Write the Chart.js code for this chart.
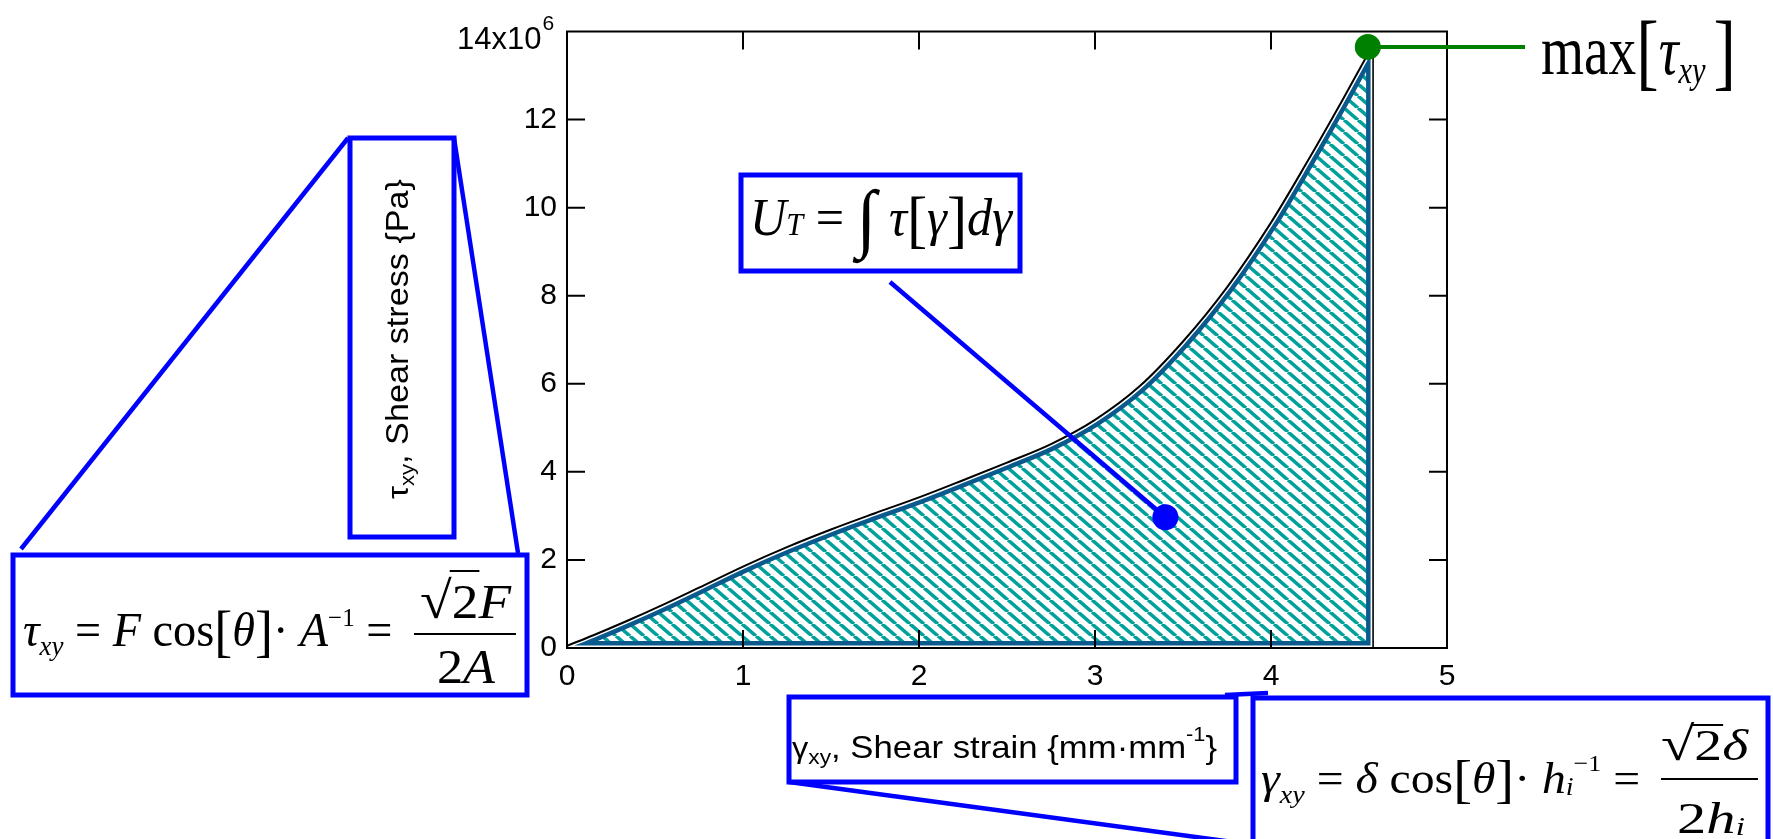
<!DOCTYPE html>
<html>
<head>
<meta charset="utf-8">
<script src="https://cdn.jsdelivr.net/npm/chart.js@4.4.1/dist/chart.umd.min.js"></script>
<style>
  html, body { margin: 0; padding: 0; background: #fff; }
  #wrap { width: 1773px; height: 839px; }
</style>
</head>
<body>
<div id="wrap"><canvas id="chart" width="1773" height="839"></canvas></div>
<script>
// shear strain (mm/mm) and shear stress (MPa)
const strain = [0, 0.15, 0.35, 0.55, 0.75, 1.0, 1.25, 1.5, 1.75, 2.0, 2.25, 2.5, 2.75, 3.0, 3.25, 3.5, 3.75, 4.0, 4.2, 4.4, 4.58];
const stressMPa = [0.05, 0.29, 0.63, 0.99, 1.37, 1.85, 2.29, 2.69, 3.06, 3.42, 3.81, 4.21, 4.63, 5.18, 5.93, 6.96, 8.19, 9.66, 11.0, 12.4, 13.7];

// annotation markers: [strain, stress MPa]
const energyMarker = [3.4, 2.97];
const peakMarker = [4.55, 13.65];

const xTicks = [0, 1, 2, 3, 4, 5];
const yTicks = [0, 2, 4, 6, 8, 10, 12, 14];

const BLUE = '#0000ff';
const EDGE = '#0b5a8e';
const TEAL = '#00a09c';

const serif = (s, it) => (it ? 'italic ' : '') + s + 'px "Liberation Serif", "Times New Roman", serif';
const sans = s => s + 'px "Liberation Sans", Arial, sans-serif';

// hatch tile, stripes running down to the right
const tile = document.createElement('canvas');
tile.width = 14; tile.height = 12;
const tc = tile.getContext('2d');
tc.strokeStyle = TEAL;
tc.lineWidth = 3.6;
for (let k = -1; k <= 1; k++) {
    tc.beginPath();
    tc.moveTo(k * 14, 0);
    tc.lineTo(k * 14 + 14, 12);
    tc.stroke();
}
const ctxMain = document.getElementById('chart').getContext('2d');
const hatch = ctxMain.createPattern(tile, 'repeat');

// draws runs of text, squeezed or stretched to a given width
function rich(ctx, runs, x, y, width) {
    let total = 0;
    for (const r of runs) { ctx.font = r.font; r.w = ctx.measureText(r.t).width; total += r.w; }
    const k = width ? width / total : 1;
    const pos = [];
    ctx.save();
    ctx.fillStyle = '#000';
    ctx.textAlign = 'left';
    ctx.textBaseline = 'alphabetic';
    ctx.translate(x, y);
    ctx.scale(k, 1);
    let cx = 0;
    for (const r of runs) {
        ctx.font = r.font;
        ctx.fillText(r.t, cx, r.dy || 0);
        pos.push([x + cx * k, x + (cx + r.w) * k]);
        cx += r.w;
    }
    ctx.restore();
    return pos;
}

function line(ctx, x1, y1, x2, y2, color, w) {
    ctx.save();
    ctx.strokeStyle = color; ctx.lineWidth = w; ctx.lineCap = 'butt';
    ctx.beginPath(); ctx.moveTo(x1, y1); ctx.lineTo(x2, y2); ctx.stroke();
    ctx.restore();
}

function box(ctx, x, y, w, h) {
    ctx.save();
    ctx.strokeStyle = BLUE; ctx.lineWidth = 5; ctx.lineJoin = 'miter';
    ctx.strokeRect(x, y, w, h);
    ctx.restore();
}

function dot(ctx, x, y, r, color) {
    ctx.save();
    ctx.fillStyle = color;
    ctx.beginPath(); ctx.arc(x, y, r, 0, Math.PI * 2); ctx.fill();
    ctx.restore();
}

function traceArea(ctx, chart) {
    const meta = chart.getDatasetMeta(0);
    const pts = meta.data;
    const y0 = chart.scales.y.getPixelForValue(0);
    ctx.beginPath();
    meta.dataset.path(ctx);
    ctx.lineTo(pts[pts.length - 1].x, y0);
    ctx.lineTo(pts[0].x, y0);
    ctx.closePath();
}

const figurePlugin = {
    id: 'figure',
    beforeDatasetDraw(chart, args) {
        if (args.index !== 0) return;
        // inner outline of the hatched area, set off from the black curve by a white gap
        const ctx = chart.ctx;
        const meta = chart.getDatasetMeta(0);
        meta.dataset.updateControlPoints(chart.chartArea, 'x');
        ctx.save();
        traceArea(ctx, chart);
        ctx.clip();
        traceArea(ctx, chart);
        ctx.lineJoin = 'round';
        ctx.strokeStyle = EDGE; ctx.lineWidth = 14; ctx.stroke();
        ctx.strokeStyle = '#fff'; ctx.lineWidth = 5; ctx.stroke();
        ctx.restore();
    },
    afterDatasetsDraw(chart) {
        const ctx = chart.ctx;
        const {left, right, top, bottom} = chart.chartArea;
        const xs = chart.scales.x, ys = chart.scales.y;
        const meta = chart.getDatasetMeta(0);
        const last = meta.data[meta.data.length - 1];

        // vertical closing line of the curve
        line(ctx, last.x, last.y, last.x, bottom, '#000', 1.6);

        // frame and inward ticks
        ctx.save();
        ctx.strokeStyle = '#000'; ctx.lineWidth = 2;
        ctx.strokeRect(left, top, right - left, bottom - top);
        ctx.beginPath();
        xTicks.slice(1, -1).forEach(v => {
            const px = xs.getPixelForValue(v);
            ctx.moveTo(px, bottom); ctx.lineTo(px, bottom - 18);
            ctx.moveTo(px, top); ctx.lineTo(px, top + 18);
        });
        yTicks.slice(1, -1).forEach(v => {
            const py = ys.getPixelForValue(v * 1e6);
            ctx.moveTo(left, py); ctx.lineTo(left + 18, py);
            ctx.moveTo(right, py); ctx.lineTo(right - 18, py);
        });
        ctx.stroke();
        ctx.restore();

        // top y label with exponent
        ctx.save();
        ctx.fillStyle = '#000';
        ctx.textBaseline = 'alphabetic';
        ctx.textAlign = 'right';
        ctx.font = sans(31);
        ctx.fillText(yTicks[yTicks.length - 1] + 'x10', 541.5, 48.5);
        ctx.textAlign = 'left';
        ctx.font = sans(21);
        ctx.fillText('6', 542.5, 30);
        ctx.restore();

        // markers and leader lines
        const ex = xs.getPixelForValue(energyMarker[0]), ey = ys.getPixelForValue(energyMarker[1] * 1e6);
        const mx = xs.getPixelForValue(peakMarker[0]), my = ys.getPixelForValue(peakMarker[1] * 1e6);
        line(ctx, 890, 282, ex, ey, BLUE, 4.5);
        line(ctx, mx, my, 1525, my, '#008000', 4);
        dot(ctx, ex, ey, 13, BLUE);
        dot(ctx, mx, my, 13, '#008000');
    },
    afterDraw(chart) {
        const ctx = chart.ctx;

        // boxes and connectors
        box(ctx, 741, 175, 279, 96);
        box(ctx, 350, 138, 104, 399);
        box(ctx, 13, 555, 514, 140);
        box(ctx, 789, 697, 447, 85);
        box(ctx, 1253, 698, 515, 170);
        line(ctx, 348, 138, 21, 549, BLUE, 4.5);
        line(ctx, 454, 138, 518, 553, BLUE, 4.5);
        line(ctx, 1225, 695, 1268, 693, BLUE, 4.5);
        line(ctx, 789, 782, 1255, 845, BLUE, 4.5);

        // U_T formula
        rich(ctx, [
            {t: 'U', font: serif(53, true)},
            {t: 'T', font: serif(32, true)},
            {t: ' = ', font: serif(53)},
            {t: '∫', font: serif(76), dy: 8},
            {t: ' τ', font: serif(53, true)},
            {t: '[', font: serif(64), dy: 5},
            {t: 'γ', font: serif(53, true)},
            {t: ']', font: serif(64), dy: 5},
            {t: 'dγ', font: serif(53, true)}
        ], 750, 235, 262);

        // max label
        rich(ctx, [
            {t: 'max', font: serif(69)},
            {t: '[', font: serif(84), dy: 6},
            {t: 'τ', font: serif(69, true)},
            {t: 'xy', font: serif(38, true), dy: 9},
            {t: ' ', font: serif(40)},
            {t: ']', font: serif(84), dy: 6}
        ], 1541, 73.5, 195);

        // shear stress formula
        rich(ctx, [
            {t: 'τ', font: serif(48, true)},
            {t: 'xy', font: serif(28, true), dy: 9},
            {t: ' = ', font: serif(48)},
            {t: 'F', font: serif(48, true)},
            {t: ' cos', font: serif(48)},
            {t: '[', font: serif(56), dy: 4},
            {t: 'θ', font: serif(48, true)},
            {t: ']', font: serif(56), dy: 4},
            {t: '· ', font: serif(48)},
            {t: 'A', font: serif(48, true)},
            {t: '−1', font: serif(26), dy: -20},
            {t: ' = ', font: serif(48)}
        ], 23, 646, 381);
        let p = rich(ctx, [
            {t: '√', font: serif(52)},
            {t: '2', font: serif(48)},
            {t: 'F', font: serif(48, true)}
        ], 420, 618, 91);
        line(ctx, p[0][1] - 2, 571, p[1][1] + 1, 571, '#000', 2);
        line(ctx, 414, 634, 516, 634, '#000', 2);
        rich(ctx, [
            {t: '2', font: serif(48)},
            {t: 'A', font: serif(48, true)}
        ], 437, 683, 58);

        // shear strain formula
        rich(ctx, [
            {t: 'γ', font: serif(44, true)},
            {t: 'xy', font: serif(26, true), dy: 10},
            {t: ' = ', font: serif(44)},
            {t: 'δ', font: serif(44, true)},
            {t: ' cos', font: serif(44)},
            {t: '[', font: serif(52), dy: 4},
            {t: 'θ', font: serif(44, true)},
            {t: ']', font: serif(52), dy: 4},
            {t: '· ', font: serif(44)},
            {t: 'h', font: serif(44, true)},
            {t: 'i', font: serif(26, true), dy: 2},
            {t: '−1', font: serif(24), dy: -22},
            {t: ' = ', font: serif(44)}
        ], 1261, 793, 391);
        p = rich(ctx, [
            {t: '√', font: serif(48)},
            {t: '2', font: serif(44)},
            {t: 'δ', font: serif(44, true)}
        ], 1661, 760, 87);
        line(ctx, p[0][1] - 2, 725, p[1][1] + 1, 725, '#000', 2);
        line(ctx, 1661, 779, 1758, 779, '#000', 2);
        rich(ctx, [
            {t: '2', font: serif(44)},
            {t: 'h', font: serif(44, true)},
            {t: 'i', font: serif(26, true), dy: 2}
        ], 1677, 833, 68);

        // axis titles
        rich(ctx, [
            {t: 'γ', font: sans(30)},
            {t: 'xy', font: sans(21), dy: 6},
            {t: ', Shear strain {mm·mm', font: sans(32)},
            {t: '-1', font: sans(20), dy: -17},
            {t: '}', font: sans(32)}
        ], 792, 758, 425);

        ctx.save();
        ctx.translate(408, 499);
        ctx.rotate(-Math.PI / 2);
        rich(ctx, [
            {t: 'τ', font: sans(30)},
            {t: 'xy', font: sans(20), dy: 6},
            {t: ', Shear stress {Pa}', font: sans(31)}
        ], 0, 0, 320);
        ctx.restore();
    }
};

new Chart(ctxMain, {
    type: 'line',
    data: {
        datasets: [{
            data: strain.map((x, i) => ({x: x, y: stressMPa[i] * 1e6})),
            borderColor: '#000',
            borderWidth: 2,
            backgroundColor: hatch,
            fill: 'origin',
            cubicInterpolationMode: 'monotone',
            pointRadius: 0
        }]
    },
    options: {
        responsive: false,
        devicePixelRatio: 1,
        animation: false,
        layout: { padding: { top: 31.5, right: 326, left: 0, bottom: 0 } },
        plugins: { legend: { display: false }, tooltip: { enabled: false } },
        scales: {
            x: {
                type: 'linear',
                min: xTicks[0],
                max: xTicks[xTicks.length - 1],
                grid: { display: false, drawTicks: false },
                border: { display: false },
                ticks: {
                    stepSize: 1,
                    padding: 11,
                    maxRotation: 0,
                    color: '#000',
                    font: { family: 'Liberation Sans', size: 30 }
                },
                afterFit(scale) { scale.height = 191; }
            },
            y: {
                min: 0,
                max: yTicks[yTicks.length - 1] * 1e6,
                grid: { display: false, drawTicks: false },
                border: { display: false },
                ticks: {
                    stepSize: 2e6,
                    padding: 10,
                    color: '#000',
                    font: { family: 'Liberation Sans', size: 30 },
                    callback: v => (v >= 14e6 ? '' : String(v / 1e6))
                },
                afterFit(scale) { scale.width = 567; }
            }
        }
    },
    plugins: [figurePlugin]
});
</script>
</body>
</html>
